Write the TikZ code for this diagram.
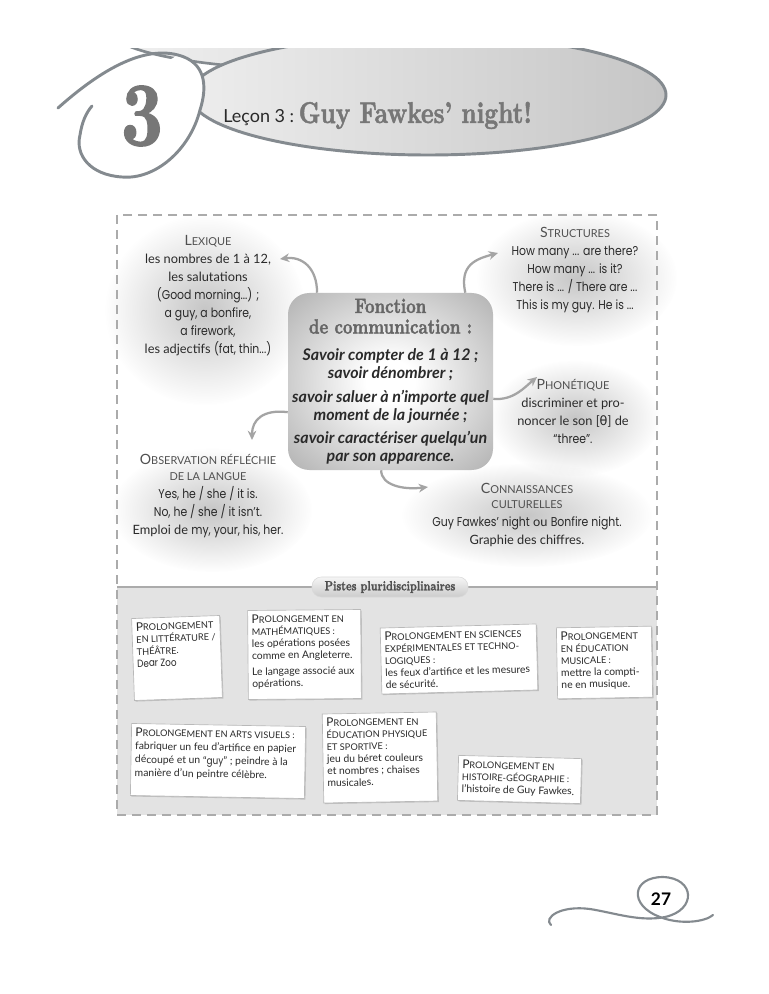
\documentclass[tikz,border=0pt]{standalone}
\usepackage{fontspec}
\usepackage{graphicx}
\setmainfont{Lato}
\newfontfamily\hand{Poppins}[FakeStretch=0.85]
\newfontfamily\didone{lmroman10-bold.otf}[FakeStretch=0.8, FakeBold=1.6]
\newfontfamily\dejavu{DejaVu Sans}
\usetikzlibrary{positioning,arrows.meta,shadows,fadings}

\definecolor{hdrline}{HTML}{848A8F}
\definecolor{numgray}{HTML}{777777}
\definecolor{titlegray}{HTML}{666666}
\definecolor{arrowgray}{HTML}{A4A4A4}
\definecolor{headgray}{HTML}{505050}
\definecolor{txtgray}{HTML}{2A2A2A}
\definecolor{panelgray}{HTML}{E3E3E3}
\definecolor{bordergray}{HTML}{ABABAB}

\pgfdeclareradialshading{boxshade}{\pgfpoint{0bp}{0bp}}{color(0bp)=(white); color(6bp)=(white); color(40bp)=(gray!70); color(50bp)=(gray!78)}
\tikzfading[name=blobfade, inner color=transparent!0, outer color=transparent!100]

% fake small caps
\newcommand\bigsc[2]{{\fontsize{10.6}{13.5}\selectfont #1}{\fontsize{8.2}{13.5}\selectfont #2}}
\newcommand\smallsc[1]{{\fontsize{8.2}{13.5}\selectfont #1}}
\newcommand\cardsc[2]{{\fontsize{9}{9}\selectfont #1}{\fontsize{6.9}{9}\selectfont #2}}
\newcommand\cardsm[1]{{\fontsize{6.9}{9}\selectfont #1}}
\newcommand\cardtext[3]{\parbox[c][#2][t]{#1}{\renewcommand\arraystretch{1}%
  \begin{tabular}[t]{@{}l@{}}#3\end{tabular}}}
\newcommand\fontitle[1]{{\didone\fontsize{15.5}{17}\selectfont\color{titlegray}#1}}
\newcommand\fonline[1]{{\bfseries\itshape #1}}

\begin{document}
\begin{tikzpicture}[
  x=0.75pt, y=-0.75pt,
  >=Stealth,
  arr/.style={-{Stealth[length=7pt,width=6.5pt]}, line width=1.7pt, draw=arrowgray},
  blob/.style={fill=gray!45, path fading=blobfade},
  sat/.style={align=center, font=\fontsize{9.6}{13.5}\selectfont, text=txtgray, inner sep=0pt},
  fonct/.style={minimum width=153.75pt, minimum height=132.75pt, align=center, inner sep=0pt,
    text=txtgray, font=\fontsize{12}{13.5}\selectfont},
  card/.style={draw=gray!55, line width=0.5pt, fill=white, inner sep=3pt, text=txtgray,
    font=\fontsize{7.8}{9}\selectfont,
    drop shadow={shadow xshift=0.8pt, shadow yshift=-0.8pt, opacity=0.35, fill=gray}},
  pill/.style={rounded corners=7pt, top color=gray!8, bottom color=gray!40, draw=gray!30,
    minimum width=117pt, minimum height=15pt, inner sep=0pt, text=headgray,
    font=\didone\fontsize{10}{10}\selectfont},
]
  \useasboundingbox (0,0) rectangle (768,994);
  \fill[white] (0,0) rectangle (768,994);

  % Header banner
  \begin{scope}
    \clip (0,49) rectangle (768,400);
    \shadedraw[left color=gray!12, right color=gray!35, draw=hdrline, line width=2pt] (330,30) ellipse [x radius=220, y radius=40];
    \shadedraw[left color=gray!14, right color=gray!45, draw=hdrline, line width=2.2pt] (428,95) ellipse [x radius=238, y radius=60];
  \end{scope}
  \fill[white] (178,55) .. controls (205,62) and (208,85) .. (200,110)
    .. controls (190,150) and (155,180) .. (122,177) .. controls (90,175) and (75,155) .. (80,135)
    .. controls (82,122) and (86,113) .. (92,106) -- cycle;
  \draw[hdrline, line width=2.2pt, line cap=round] (58,108) .. controls (95,75) and (140,45) .. (178,55)
    .. controls (205,62) and (208,85) .. (200,110) .. controls (190,150) and (155,180) .. (122,177)
    .. controls (90,175) and (75,155) .. (80,135) .. controls (82,122) and (86,113) .. (92,106);
  \node[font=\didone\fontsize{68}{68}\selectfont, text=numgray] (lessonnum) at (142,116) {3};
  \node[anchor=base west, inner sep=0pt, font=\fontsize{13.5}{15}\selectfont, text=txtgray] (lecon) at (223,123) {Leçon 3 :};
  \node[anchor=base west, inner sep=0pt, xshift=3pt, font=\didone\fontsize{22.5}{24}\selectfont, text=numgray] (title) at (lecon.base east) {Guy Fawkes’ night!};

  % Bottom panel
  \fill[panelgray] (117,587) rectangle (657,815);
  \draw[bordergray, line width=1.2pt] (117,587) -- (657,587);
  \node[pill] (pistes) at (390,587) {Pistes pluridisciplinaires};

  % Shaded blobs
  \fill[blob] (205,310) ellipse [x radius=100, y radius=95];
  \fill[blob] (577,278) ellipse [x radius=100, y radius=68];
  \fill[blob] (575,418) ellipse [x radius=85, y radius=58];
  \fill[blob] (527,515) ellipse [x radius=125, y radius=52];
  \fill[blob] (212,510) ellipse [x radius=100, y radius=62];

  % Central box
  \shade[shading=boxshade, rounded corners=16pt] (288,293) rectangle (493,470);
  \node[fonct] (fonct) at (390.5,381.5) {%
    \fontitle{Fonction}\\[2pt]
    \fontitle{de communication :}\\[7pt]
    \fonline{Savoir compter de 1 à 12 ;}\\
    \fonline{savoir dénombrer ;}\\[4pt]
    \fonline{savoir saluer à n’importe quel}\\
    \fonline{moment de la journée ;}\\[4pt]
    \fonline{savoir caractériser quelqu’un}\\
    \fonline{par son apparence.}};

  % Satellites
  \node[sat] (lexique) at (208,296) {%
    \textcolor{headgray}{\bigsc{L}{EXIQUE}}\\
    les nombres de 1 à 12,\\
    les salutations\\
    {\hand (Good morning...) ;}\\
    {\hand a guy, a bonfire,}\\
    {\hand a firework,}\\
    les adjectifs {\hand (fat, thin...)}};
  \node[sat] (structures) at (575,270) {%
    \textcolor{headgray}{\bigsc{S}{TRUCTURES}}\\
    {\hand How many ... are there?}\\
    {\hand How many ... is it?}\\
    {\hand There is ... / There are ...}\\
    {\hand This is my guy. He is ...}};
  \node[sat] (phonetique) at (573,411) {%
    \textcolor{headgray}{\bigsc{P}{HONÉTIQUE}}\\
    discriminer et pro-\\
    noncer le son [{\dejavu θ}] de\\
    {\hand “three”.}};
  \node[sat] (culture) at (527,515) {%
    \textcolor{headgray}{\bigsc{C}{ONNAISSANCES}}\\[-2pt]
    \textcolor{headgray}{\smallsc{CULTURELLES}}\\
    {\hand Guy Fawkes’ night} ou {\hand Bonfire night.}\\
    Graphie des chiffres.};
  \node[sat] (observation) at (208,496) {%
    \textcolor{headgray}{\bigsc{O}{BSERVATION RÉFLÉCHIE}}\\[-2pt]
    \textcolor{headgray}{\smallsc{DE LA LANGUE}}\\
    {\hand Yes, he / she / it is.}\\
    {\hand No, he / she / it isn’t.}\\
    Emploi de {\hand my, your, his, her.}};

  % Arrows from the central box
  \coordinate (lexarrow) at (280,259);
  \coordinate (strarrow) at (498,253);
  \coordinate (phonarrow) at (537,377);
  \coordinate (cultarrow) at (428,487);
  \coordinate (obsarrow) at (252,440);
  \draw[arr] ([xshift=22pt]fonct.north west) .. controls +(0,-25) and +(22,-3) .. (lexarrow);
  \draw[arr] ([xshift=-21pt]fonct.north east) .. controls +(-6,-28) and +(-22,6) .. (strarrow);
  \draw[arr] ([yshift=-13pt]fonct.east) .. controls +(20,2) and +(-12,10) .. (phonarrow);
  \draw[arr] ([xshift=-7pt]fonct.south) .. controls +(0,15) and +(-25,3) .. (cultarrow);
  \draw[arr] ([yshift=-23pt]fonct.west) .. controls +(-25,-3) and +(0,-20) .. (obsarrow);

  % Cards
  \node[card, rotate=2] (littcard) at (177,658) {\cardtext{60pt}{55.5pt}{%
    \cardsc{P}{ROLONGEMENT}\\ \cardsm{EN LITTÉRATURE /}\\ \cardsm{THÉÂTRE.}\\ {\hand Dear Zoo}}};
  \node[card, rotate=0.5] (mathcard) at (304.5,654.5) {\cardtext{78.75pt}{60.75pt}{%
    \cardsc{P}{ROLONGEMENT EN}\\ \cardsm{MATHÉMATIQUES :}\\ les opérations posées\\
    comme en Angleterre.\\[3pt] Le langage associé aux\\ opérations.}};
  \node[card, rotate=1.5] (scicard) at (459,659) {\cardtext{111pt}{43.5pt}{%
    \cardsc{P}{ROLONGEMENT EN SCIENCES}\\ \cardsm{EXPÉRIMENTALES ET TECHNO-}\\ \cardsm{LOGIQUES :}\\
    les feux d’artifice et les mesures\\ de sécurité.}};
  \node[card, rotate=1] (musiccard) at (604.5,662.5) {\cardtext{65.25pt}{47.25pt}{%
    \cardsc{P}{ROLONGEMENT}\\ \cardsm{EN ÉDUCATION}\\ \cardsm{MUSICALE :}\\
    mettre la compti-\\ ne en musique.}};
  \node[card, rotate=-1] (artcard) at (218,761) {\cardtext{124.5pt}{48pt}{%
    \cardsc{P}{ROLONGEMENT EN ARTS VISUELS :}\\[1pt] fabriquer un feu d’artifice en papier\\[1pt]
    découpé et un “{\hand guy}” ; peindre à la\\[1pt] manière d’un peintre célèbre.}};
  \node[card, rotate=1] (sportcard) at (380,757.5) {\cardtext{79.5pt}{60.75pt}{%
    \cardsc{P}{ROLONGEMENT EN}\\ \cardsm{ÉDUCATION PHYSIQUE}\\ \cardsm{ET SPORTIVE :}\\
    jeu du béret couleurs\\ et nombres ; chaises\\ musicales.}};
  \node[card, rotate=-1.5] (histcard) at (519.5,779.5) {\cardtext{86.25pt}{27.75pt}{%
    \cardsc{P}{ROLONGEMENT EN}\\ \cardsm{HISTOIRE-GÉOGRAPHIE :}\\ l’histoire de Guy Fawkes.}};

  % Dashed frame
  \draw[bordergray, line width=1.6pt, dash pattern=on 6.75pt off 4.5pt] (117,215) rectangle (657,815);

  % Page number
  \draw[hdrline, line width=1.6pt, line cap=round] (551,925) .. controls (543,918) and (560,905) .. (590,909)
    .. controls (615,913) and (640,922) .. (665,917) .. controls (697,910) and (695,878) .. (663,877)
    .. controls (632,877) and (628,905) .. (660,917) .. controls (680,925) and (705,922) .. (713,915);
  \node[font=\bfseries\fontsize{13}{13}\selectfont, text=black] (pagenum) at (661,899) {27};
\end{tikzpicture}
\end{document}
